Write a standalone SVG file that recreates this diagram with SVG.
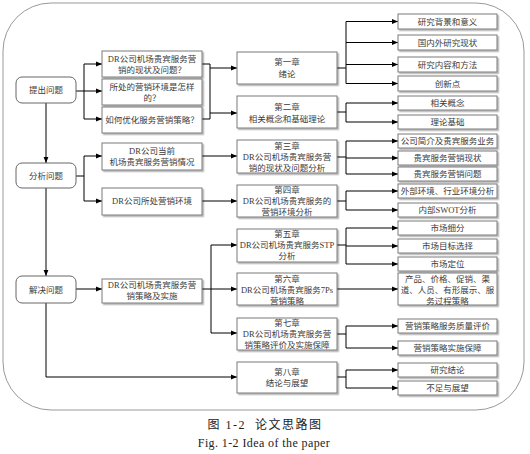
<svg xmlns="http://www.w3.org/2000/svg" width="530" height="454" viewBox="0 0 530 454">
<style>
.t{font-family:"Liberation Serif","Noto Sans CJK SC",serif;font-size:8.5px;fill:#3a3a3a;text-anchor:middle;dominant-baseline:central}
.rb{fill:#fff;stroke:#666;stroke-width:1}
.bx{fill:#fff;stroke:#7a7a7a;stroke-width:1;filter:url(#sh)}
.c{fill:none;stroke:#000;stroke-width:1}
.a{fill:none;stroke:#000;stroke-width:1;marker-end:url(#ah)}
.cap{font-family:"Liberation Serif","Noto Sans CJK SC",serif;fill:#222;text-anchor:middle;white-space:pre}
</style>
<defs>
<filter id="sh" x="-10%" y="-10%" width="130%" height="140%">
<feDropShadow dx="1.5" dy="1.5" stdDeviation="0.7" flood-color="#000" flood-opacity="0.3"/>
</filter>
<marker id="ah" viewBox="0 0 10 10" refX="10" refY="5" markerWidth="6" markerHeight="6" orient="auto" markerUnits="userSpaceOnUse">
<path d="M0,1 L10,5 L0,9 z" fill="#000"/>
</marker>
</defs>
<rect width="530" height="454" fill="#fff"/>
<rect id="frame" x="3" y="3" width="521" height="407" rx="48" ry="48" fill="none" stroke="#999" stroke-width="1"/>

<g id="connectors">
<path class="c" d="M76,91 H84 M84,64 V119"/>
<path class="a" d="M84,64 H102"/>
<path class="a" d="M84,91 H102"/>
<path class="a" d="M84,119 H102"/>
<path class="c" d="M202,64 H210 M202,119 H210 M210,64 V119"/>
<path class="a" d="M210,68 H237"/>
<path class="a" d="M210,113 H237"/>
<path class="a" d="M46,103 V163"/>
<path class="a" d="M46,188 V276"/>
<path class="c" d="M76,176 H84 M84,156 V201"/>
<path class="a" d="M84,156 H102"/>
<path class="a" d="M84,201 H102"/>
<path class="a" d="M202,156 H237"/>
<path class="a" d="M202,201 H237"/>
<path class="a" d="M76,289 H102"/>
<path class="a" d="M202,289 H237"/>
<path class="c" d="M211,245 V333"/>
<path class="a" d="M211,245 H237"/>
<path class="a" d="M211,333 H237"/>
<path class="a" d="M46,303 V377 H237"/>
<path class="c" d="M337,68 H346 M346,21.5 V83.5"/>
<path class="a" d="M346,21.5 H398"/>
<path class="a" d="M346,42.5 H398"/>
<path class="a" d="M346,64.5 H398"/>
<path class="a" d="M346,83.5 H398"/>
<path class="c" d="M337,112 H346 M346,103 V122"/>
<path class="a" d="M346,103 H398"/>
<path class="a" d="M346,122 H398"/>
<path class="c" d="M337,157 H346 M346,141 V174"/>
<path class="a" d="M346,141 H398"/>
<path class="a" d="M346,158 H398"/>
<path class="a" d="M346,174 H398"/>
<path class="c" d="M337,201 H346 M346,191 V210"/>
<path class="a" d="M346,191 H398"/>
<path class="a" d="M346,210 H398"/>
<path class="c" d="M337,245 H346 M346,228 V264"/>
<path class="a" d="M346,228 H398"/>
<path class="a" d="M346,246 H398"/>
<path class="a" d="M346,264 H398"/>
<path class="a" d="M337,289 H398"/>
<path class="c" d="M337,334 H346 M346,326 V348"/>
<path class="a" d="M346,326 H398"/>
<path class="a" d="M346,348 H398"/>
<path class="c" d="M337,377 H346 M346,370 V388"/>
<path class="a" d="M346,370 H398"/>
<path class="a" d="M346,388 H398"/>
</g>

<g id="n-tichu"><rect class="rb" x="16" y="77" width="60" height="26" rx="6"/><text class="t" x="46" y="90">提出问题</text></g>
<g id="n-fenxi"><rect class="rb" x="16" y="163" width="60" height="25" rx="6"/><text class="t" x="46" y="175.5">分析问题</text></g>
<g id="n-jiejue"><rect class="rb" x="16" y="276" width="60" height="27" rx="6"/><text class="t" x="46" y="289.5">解决问题</text></g>

<g id="q1"><rect class="bx" x="102" y="51" width="100" height="26"/><text class="t" x="152" y="59">DR公司机场贵宾服务营</text><text class="t" x="152" y="70">销的现状及问题？</text></g>
<g id="q2"><rect class="bx" x="102" y="79" width="100" height="26"/><text class="t" x="152" y="87">所处的营销环境是怎样</text><text class="t" x="152" y="98">的？</text></g>
<g id="q3"><rect class="bx" x="102" y="107" width="100" height="26"/><text class="t" x="152" y="120">如何优化服务营销策略？</text></g>
<g id="a1"><rect class="bx" x="102" y="143" width="100" height="27"/><text class="t" x="152" y="151">DR公司当前</text><text class="t" x="152" y="162">机场贵宾服务营销情况</text></g>
<g id="a2"><rect class="bx" x="102" y="188" width="100" height="27"/><text class="t" x="152" y="201">DR公司所处营销环境</text></g>
<g id="s1"><rect class="bx" x="102" y="279" width="100" height="24"/><text class="t" x="152" y="285">DR公司机场贵宾服务营</text><text class="t" x="152" y="296">销策略及实施</text></g>

<g id="ch1"><rect class="bx" x="237" y="52" width="100" height="32"/><text class="t" x="287" y="62">第一章</text><text class="t" x="287" y="74">绪论</text></g>
<g id="ch2"><rect class="bx" x="237" y="96" width="100" height="32"/><text class="t" x="287" y="107">第二章</text><text class="t" x="287" y="119">相关概念和基础理论</text></g>
<g id="ch3"><rect class="bx" x="237" y="140" width="100" height="33"/><text class="t" x="287" y="146">第三章</text><text class="t" x="287" y="157">DR公司机场贵宾服务营</text><text class="t" x="287" y="168">销的现状及问题分析</text></g>
<g id="ch4"><rect class="bx" x="237" y="185" width="100" height="32"/><text class="t" x="287" y="190">第四章</text><text class="t" x="287" y="201">DR公司机场贵宾服务的</text><text class="t" x="287" y="212">营销环境分析</text></g>
<g id="ch5"><rect class="bx" x="237" y="229" width="100" height="33"/><text class="t" x="287" y="234">第五章</text><text class="t" x="287" y="245">DR公司机场贵宾服务STP</text><text class="t" x="287" y="256">分析</text></g>
<g id="ch6"><rect class="bx" x="237" y="273" width="100" height="32"/><text class="t" x="287" y="279">第六章</text><text class="t" x="287" y="290">DR公司机场贵宾服务7Ps</text><text class="t" x="287" y="301">营销策略</text></g>
<g id="ch7"><rect class="bx" x="237" y="318" width="100" height="32"/><text class="t" x="287" y="323">第七章</text><text class="t" x="287" y="334">DR公司机场贵宾服务营</text><text class="t" x="287" y="345">销策略评价及实施保障</text></g>
<g id="ch8"><rect class="bx" x="237" y="362" width="100" height="31"/><text class="t" x="287" y="372">第八章</text><text class="t" x="287" y="383">结论与展望</text></g>

<g id="r1"><rect class="bx" x="398" y="14" width="99" height="15"/><text class="t" x="447.5" y="21.5">研究背景和意义</text></g>
<g id="r2"><rect class="bx" x="398" y="35" width="99" height="15"/><text class="t" x="447.5" y="42.5">国内外研究现状</text></g>
<g id="r3"><rect class="bx" x="398" y="57" width="99" height="15"/><text class="t" x="447.5" y="64.5">研究内容和方法</text></g>
<g id="r4"><rect class="bx" x="398" y="76" width="99" height="15"/><text class="t" x="447.5" y="83.5">创新点</text></g>
<g id="r5"><rect class="bx" x="398" y="96" width="99" height="14"/><text class="t" x="447.5" y="103">相关概念</text></g>
<g id="r6"><rect class="bx" x="398" y="115" width="99" height="14"/><text class="t" x="447.5" y="122">理论基础</text></g>
<g id="r7"><rect class="bx" x="398" y="134" width="99" height="14"/><text class="t" x="447.5" y="141">公司简介及贵宾服务业务</text></g>
<g id="r8"><rect class="bx" x="398" y="151" width="99" height="14"/><text class="t" x="447.5" y="158">贵宾服务营销现状</text></g>
<g id="r9"><rect class="bx" x="398" y="167" width="99" height="14"/><text class="t" x="447.5" y="174">贵宾服务营销问题</text></g>
<g id="r10"><rect class="bx" x="398" y="184" width="99" height="14"/><text class="t" x="447.5" y="191">外部环境、行业环境分析</text></g>
<g id="r11"><rect class="bx" x="398" y="203" width="99" height="14"/><text class="t" x="447.5" y="210">内部SWOT分析</text></g>
<g id="r12"><rect class="bx" x="398" y="221" width="99" height="14"/><text class="t" x="447.5" y="228">市场细分</text></g>
<g id="r13"><rect class="bx" x="398" y="239" width="99" height="14"/><text class="t" x="447.5" y="246">市场目标选择</text></g>
<g id="r14"><rect class="bx" x="398" y="257" width="99" height="14"/><text class="t" x="447.5" y="264">市场定位</text></g>
<g id="r15"><rect class="bx" x="398" y="273" width="99" height="32"/><text class="t" x="447.5" y="279">产品、价格、促销、渠</text><text class="t" x="447.5" y="290">道、人员、有形展示、服</text><text class="t" x="447.5" y="301">务过程策略</text></g>
<g id="r16"><rect class="bx" x="398" y="319" width="99" height="14"/><text class="t" x="447.5" y="326">营销策略服务质量评价</text></g>
<g id="r17"><rect class="bx" x="398" y="341" width="99" height="14"/><text class="t" x="447.5" y="348">营销策略实施保障</text></g>
<g id="r18"><rect class="bx" x="398" y="363" width="99" height="14"/><text class="t" x="447.5" y="370">研究结论</text></g>
<g id="r19"><rect class="bx" x="398" y="381" width="99" height="14"/><text class="t" x="447.5" y="388">不足与展望</text></g>

<g id="caption">
<text class="cap" x="265" y="429" font-size="12" letter-spacing="1.5">图 1-2  论文思路图</text>
<text class="cap" x="264" y="447" font-size="12" letter-spacing="0.4">Fig. 1-2 Idea of the paper</text>
</g>
</svg>
